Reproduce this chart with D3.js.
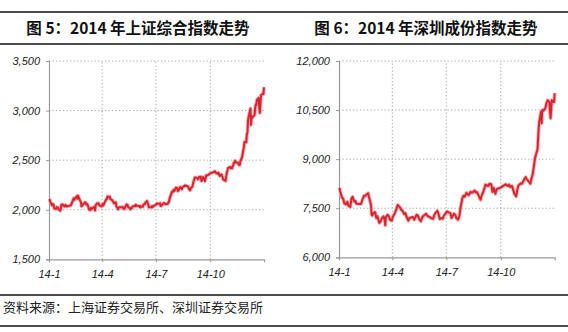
<!DOCTYPE html>
<html><head><meta charset="utf-8">
<script src="https://cdn.jsdelivr.net/npm/d3@7"></script>
<style>
html,body{margin:0;padding:0;background:#fff;}
svg{display:block;}
</style></head>
<body>
<svg id="c" width="568" height="332"></svg>
<script>
// ---------- data ----------
const titles = ["图 5：2014 年上证综合指数走势", "图 6：2014 年深圳成份指数走势"];
const sourceText = "资料来源：上海证券交易所、深圳证券交易所";
const xTickLabels = ["14-1", "14-4", "14-7", "14-10"];
const xTickDates = ["2014-01-01", "2014-04-01", "2014-07-01", "2014-10-01"];
const shTicks = [1500, 2000, 2500, 3000, 3500];
const szTicks = [6000, 7500, 9000, 10500, 12000];

const shDates = ["01-02","01-03","01-06","01-07","01-08","01-09","01-10","01-13","01-14","01-15","01-16","01-17","01-20","01-21","01-22","01-23","01-24","01-27","01-28","01-29","01-30","02-07","02-10","02-11","02-12","02-13","02-14","02-17","02-18","02-19","02-20","02-21","02-24","02-25","02-26","02-27","02-28","03-03","03-04","03-05","03-06","03-07","03-10","03-11","03-12","03-13","03-14","03-17","03-18","03-19","03-20","03-21","03-24","03-25","03-26","03-27","03-28","03-31","04-01","04-02","04-03","04-04","04-08","04-09","04-10","04-11","04-14","04-15","04-16","04-17","04-18","04-21","04-22","04-23","04-24","04-25","04-28","04-29","04-30","05-05","05-06","05-07","05-08","05-09","05-12","05-13","05-14","05-15","05-16","05-19","05-20","05-21","05-22","05-23","05-26","05-27","05-28","05-29","05-30","06-03","06-04","06-05","06-06","06-09","06-10","06-11","06-12","06-13","06-16","06-17","06-18","06-19","06-20","06-23","06-24","06-25","06-26","06-27","06-30","07-01","07-02","07-03","07-04","07-07","07-08","07-09","07-10","07-11","07-14","07-15","07-16","07-17","07-18","07-21","07-22","07-23","07-24","07-25","07-28","07-29","07-30","07-31","08-01","08-04","08-05","08-06","08-07","08-08","08-11","08-12","08-13","08-14","08-15","08-18","08-19","08-20","08-21","08-22","08-25","08-26","08-27","08-28","08-29","09-01","09-02","09-03","09-04","09-05","09-09","09-10","09-11","09-12","09-15","09-16","09-17","09-18","09-19","09-22","09-23","09-24","09-25","09-26","09-29","09-30","10-08","10-09","10-10","10-13","10-14","10-15","10-16","10-17","10-20","10-21","10-22","10-23","10-24","10-27","10-28","10-29","10-30","10-31","11-03","11-04","11-05","11-06","11-07","11-10","11-11","11-12","11-13","11-14","11-17","11-18","11-19","11-20","11-21","11-24","11-25","11-26","11-27","11-28","12-01","12-02","12-03","12-04","12-05","12-08","12-09","12-10","12-11","12-12","12-15","12-16","12-17","12-18","12-19","12-22","12-23","12-24","12-25","12-26","12-29","12-30","12-31"];
const shValues = [2109,2083,2045,2047,2057,2044,2013,2009,2026,2023,2023,2004,1991,2008,2051,2042,2054,2033,2038,2049,2033,2044,2086,2104,2115,2100,2115,2135,2111,2143,2132,2113,2076,2034,2041,2047,2056,2075,2071,2053,2059,2057,1999,2001,1997,2019,2004,2024,2025,2021,1993,2047,2066,2061,2064,2046,2042,2033,2047,2059,2044,2058,2105,2109,2134,2131,2131,2105,2106,2098,2098,2066,2074,2074,2075,2036,2004,2022,2026,2027,2028,2010,2015,2011,2052,2050,2047,2025,2026,2005,2008,2024,2021,2034,2041,2034,2050,2040,2039,2038,2024,2037,2030,2029,2052,2054,2055,2070,2087,2066,2055,2024,2026,2025,2035,2025,2037,2036,2048,2050,2060,2064,2060,2059,2066,2038,2039,2047,2066,2067,2062,2055,2059,2058,2075,2075,2108,2127,2178,2183,2182,2201,2186,2223,2220,2219,2188,2194,2228,2223,2225,2207,2226,2240,2246,2240,2240,2241,2230,2207,2209,2196,2217,2235,2266,2288,2306,2326,2319,2307,2311,2331,2333,2290,2296,2315,2329,2290,2314,2345,2345,2347,2357,2364,2383,2389,2374,2366,2360,2373,2357,2341,2356,2339,2326,2302,2302,2290,2337,2373,2391,2420,2430,2430,2419,2425,2418,2473,2469,2494,2486,2478,2474,2456,2450,2452,2487,2532,2567,2604,2630,2683,2680,2763,2779,2900,2938,3020,2856,2940,2925,2938,2953,3022,3061,3058,3108,3128,3032,2977,3073,3157,3168,3166,3235];

const szDates = ["01-02","01-03","01-06","01-08","01-10","01-13","01-15","01-17","01-20","01-22","01-24","01-27","01-29","01-30","02-07","02-10","02-12","02-14","02-17","02-19","02-21","02-24","02-25","02-26","02-28","03-03","03-05","03-07","03-10","03-12","03-14","03-17","03-19","03-20","03-21","03-24","03-26","03-28","03-31","04-02","04-04","04-08","04-10","04-11","04-14","04-16","04-18","04-21","04-23","04-25","04-28","04-30","05-06","05-08","05-12","05-14","05-16","05-19","05-21","05-23","05-26","05-28","05-30","06-03","06-05","06-09","06-11","06-13","06-16","06-18","06-20","06-23","06-25","06-27","06-30","07-02","07-04","07-08","07-10","07-14","07-16","07-18","07-21","07-23","07-25","07-28","07-30","08-01","08-04","08-06","08-08","08-11","08-13","08-15","08-18","08-20","08-22","08-26","08-28","08-29","09-02","09-04","09-05","09-10","09-12","09-15","09-17","09-19","09-22","09-24","09-26","09-30","10-09","10-13","10-15","10-17","10-20","10-22","10-24","10-27","10-29","10-31","11-04","11-06","11-10","11-12","11-14","11-18","11-20","11-21","11-24","11-26","11-28","12-02","12-04","12-05","12-08","12-09","12-10","12-12","12-15","12-17","12-19","12-22","12-23","12-24","12-25","12-26","12-29","12-30","12-31"];
const szValues = [8120,8020,7830,7800,7650,7620,7700,7580,7540,7800,7850,7700,7720,7640,7630,7780,7880,7870,7930,7960,7820,7600,7300,7280,7350,7380,7200,7250,7050,7100,7180,7250,7150,6980,7220,7300,7260,7150,7120,7250,7300,7480,7600,7580,7520,7450,7430,7320,7350,7240,7120,7200,7230,7150,7300,7280,7180,7100,7200,7260,7300,7330,7270,7230,7200,7180,7300,7360,7420,7320,7170,7200,7180,7270,7340,7400,7380,7350,7200,7330,7300,7200,7150,7250,7500,7800,7880,7850,7970,7930,7900,8000,7970,7990,8040,7980,7990,7830,7760,7850,8030,8150,8220,8180,8250,8230,8000,8120,7940,8080,8100,8120,8230,8180,8220,8150,8180,8060,7940,7860,8080,8200,8260,8250,8400,8450,8380,8300,8250,8350,8550,8800,9050,9300,9950,10150,10450,10100,10500,10480,10550,10700,10800,10750,10450,10250,10500,10800,10750,10750,11015];

// ---------- drawing ----------
const svg = d3.select("#c");
const parse = d3.timeParse("%Y-%m-%d");
const fmt = d3.format(",");

// frame lines and titles
[12, 44, 295, 326].forEach(y => {
  svg.append("line").attr("x1", 0).attr("x2", 568).attr("y1", y).attr("y2", y)
    .attr("stroke", "#111").attr("stroke-width", 1.4);
});
[[138, titles[0]], [426, titles[1]]].forEach(([x, t]) => {
  svg.append("text").attr("x", x).attr("y", 33.5).attr("text-anchor", "middle")
    .attr("font-family", "'Noto Sans CJK SC', sans-serif").attr("font-weight", 700)
    .attr("font-size", 15.5).attr("fill", "#111").text(t);
});
svg.append("text").attr("x", 3).attr("y", 312)
  .attr("font-family", "'Noto Sans CJK SC', sans-serif")
  .attr("font-size", 13).attr("fill", "#222").text(sourceText);

function panel(opt) {
  const x = d3.scaleTime().domain([parse("2014-01-01"), parse("2014-12-31")]).range([opt.x0, opt.x1]);
  const y = d3.scaleLinear().domain([opt.ticks[0], opt.ticks[opt.ticks.length - 1]]).range([opt.y0, opt.y1]);
  const g = svg.append("g");
  const tickDates = xTickDates.map(parse);

  // grid
  g.selectAll(".hg").data(opt.ticks.slice(1)).join("line")
    .attr("x1", opt.x0).attr("x2", opt.x1).attr("y1", d => y(d)).attr("y2", d => y(d))
    .attr("stroke", "#a8a8a8").attr("stroke-width", 1).attr("stroke-dasharray", "1.3,2.2");
  g.selectAll(".vg").data(tickDates.slice(1)).join("line")
    .attr("x1", d => x(d)).attr("x2", d => x(d)).attr("y1", opt.y0).attr("y2", opt.y1)
    .attr("stroke", "#a8a8a8").attr("stroke-width", 1).attr("stroke-dasharray", "1.3,2.2");

  // axes
  const ya = d3.axisLeft(y).tickValues(opt.ticks).tickFormat(fmt).tickSize(3).tickPadding(6);
  const ga = g.append("g").attr("transform", `translate(${opt.x0},0)`).call(ya);
  const xa = d3.axisBottom(x).tickValues(tickDates).tickFormat((d, i) => xTickLabels[i]).tickSize(3).tickPadding(8);
  const gx = g.append("g").attr("transform", `translate(0,${opt.y0})`).call(xa);
  [ga, gx].forEach(a => {
    a.select(".domain").attr("stroke", "#9a9a9a").attr("stroke-width", 1.2);
    a.selectAll(".tick line").attr("stroke", "#9a9a9a");
    a.selectAll("text").attr("font-family", "'Liberation Sans', Arial, sans-serif")
      .attr("font-style", "italic").attr("font-size", 11).attr("fill", "#222");
  });

  // line
  const data = opt.dates.map((d, i) => ({ d: parse("2014-" + d), v: opt.values[i] }));
  const line = d3.line().x(p => x(p.d)).y(p => y(p.v));
  g.append("path").datum(data).attr("d", line).attr("fill", "none")
    .attr("stroke", "#f3a0a4").attr("stroke-width", 3.8).attr("stroke-linejoin", "round").attr("opacity", 0.8);
  g.append("path").datum(data).attr("d", line).attr("fill", "none")
    .attr("stroke", "#dc2430").attr("stroke-width", 2).attr("stroke-linejoin", "round");
}

panel({ x0: 49, x1: 264, y0: 259.3, y1: 61, ticks: shTicks, dates: shDates, values: shValues });
panel({ x0: 339, x1: 554.7, y0: 257.3, y1: 61, ticks: szTicks, dates: szDates, values: szValues });
</script>
</body></html>
